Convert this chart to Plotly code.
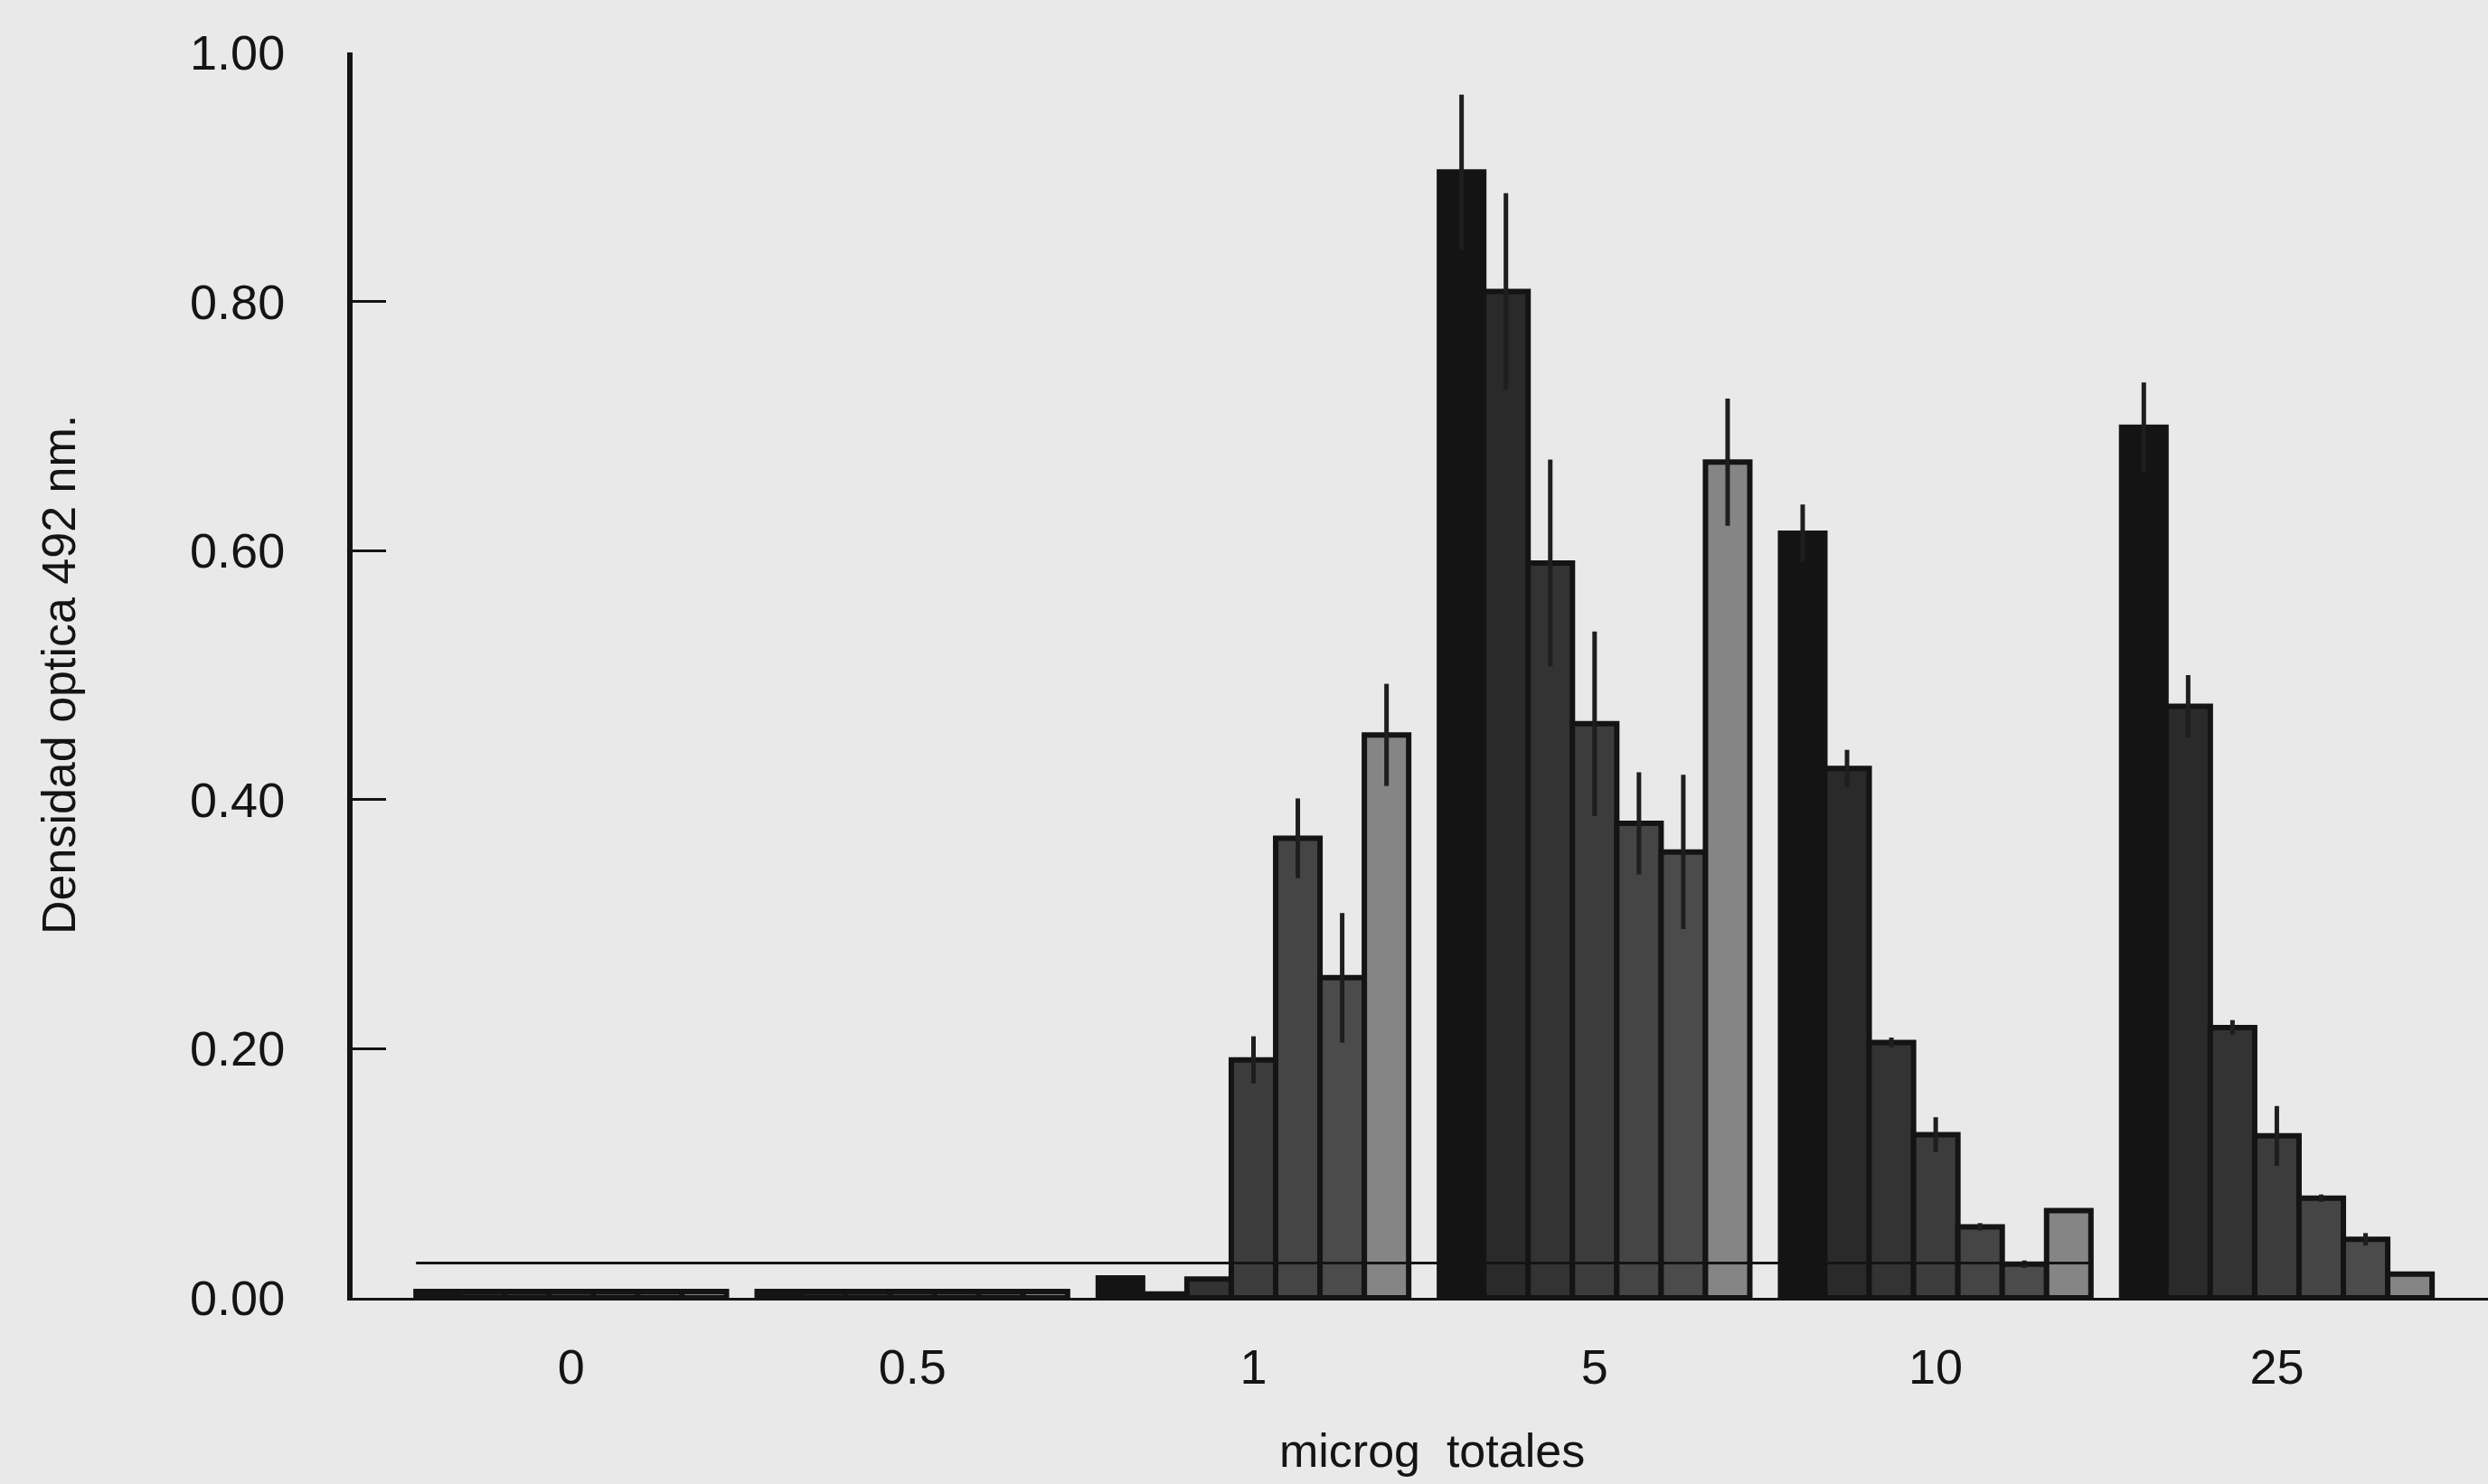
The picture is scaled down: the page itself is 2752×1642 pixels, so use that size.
import plotly.graph_objects as go

# ---- data ----
categories = ["0", "0.5", "1", "5", "10", "25"]

s1 = [0.005, 0.005, 0.016, 0.904, 0.614, 0.699]
s2 = [0.005, 0.005, 0.003, 0.808, 0.425, 0.475]
s3 = [0.005, 0.005, 0.015, 0.590, 0.205, 0.217]
s4 = [0.005, 0.005, 0.191, 0.461, 0.131, 0.130]
s5 = [0.005, 0.005, 0.369, 0.381, 0.057, 0.080]
s6 = [0.005, 0.005, 0.257, 0.358, 0.027, 0.047]
s7 = [0.005, 0.005, 0.452, 0.671, 0.070, 0.019]

e1 = [0, 0, 0, 0.062, 0.023, 0.036]
e2 = [0, 0, 0, 0.079, 0.015, 0.025]
e3 = [0, 0, 0, 0.083, 0.004, 0.006]
e4 = [0, 0, 0.019, 0.074, 0.014, 0.024]
e5 = [0, 0, 0.032, 0.041, 0.003, 0.003]
e6 = [0, 0, 0.052, 0.062, 0.003, 0.005]
e7 = [0, 0, 0.041, 0.051, 0, 0]

cutoff = 0.028
cutoff_groups = ["0", "10"]  # line spans from first group to the "10" group

y_ticks = [0.0, 0.2, 0.4, 0.6, 0.8, 1.0]
y_title = "Densidad optica 492 nm."
x_title = "microg  totales"

series = [s1, s2, s3, s4, s5, s6, s7]
errors = [e1, e2, e3, e4, e5, e6, e7]
fills = ["#141414", "#2a2a2a", "#333333", "#3c3c3c", "#454545", "#4b4b4b", "#858585"]

BG = "#e9e9e9"
INK = "#141414"
FONT = "Liberation Sans, Arial, Helvetica, sans-serif"
bargap = 0.09

fig = go.Figure()
for vals, errs, col in zip(series, errors, fills):
    fig.add_trace(go.Bar(
        x=categories, y=vals,
        marker=dict(color=col, line=dict(color=INK, width=6)),
        error_y=dict(type="data", array=errs, visible=True, symmetric=True,
                     color="#1e1e1e", thickness=5, width=0),
        showlegend=False,
    ))

# cutoff line across groups "0" .. "10"
half = (1 - bargap) / 2
x0 = categories.index(cutoff_groups[0]) - half
x1 = categories.index(cutoff_groups[1]) + half
fig.add_shape(type="line", xref="x", yref="y", x0=x0, x1=x1, y0=cutoff, y1=cutoff,
              line=dict(color=INK, width=3), layer="above")

fig.update_layout(
    width=2752, height=1642,
    margin=dict(l=390, r=0, t=58, b=206),
    paper_bgcolor=BG, plot_bgcolor=BG,
    barmode="group", bargap=bargap, bargroupgap=0,
    font=dict(family=FONT, color=INK),
)

fig.update_xaxes(
    type="category", range=[-0.641, 5.619],
    showline=True, linecolor=INK, linewidth=3,
    ticks="", showgrid=False, zeroline=False,
    tickfont=dict(size=54, family=FONT, color=INK),
    ticklabelstandoff=27,
)
fig.update_yaxes(
    range=[0, 1.0], tickvals=y_ticks, tickformat=".2f",
    showline=True, linecolor=INK, linewidth=6,
    ticks="inside", ticklen=37, tickwidth=3, tickcolor=INK,
    showgrid=False, zeroline=False,
    tickfont=dict(size=54, family=FONT, color=INK),
    ticklabelstandoff=58,
)

fig.add_annotation(text=y_title, xref="paper", yref="paper", x=0, y=0.5,
                   xanchor="center", yanchor="middle", xshift=-325, textangle=-90,
                   showarrow=False, font=dict(size=52, family=FONT, color=INK))
fig.add_annotation(text=x_title, xref="paper", yref="paper", x=(1584 - 390) / 2362, y=0,
                   xanchor="center", yanchor="bottom", yshift=-200,
                   showarrow=False, font=dict(size=52, family=FONT, color=INK))

fig.write_html("out.html", config={"displayModeBar": False})

# remove the default page margin so the figure fills the window edge to edge
with open("out.html", "r", encoding="utf-8") as f:
    html = f.read()
html = html.replace("<body>", '<body style="margin:0;padding:0;overflow:hidden;">', 1)
with open("out.html", "w", encoding="utf-8") as f:
    f.write(html)
